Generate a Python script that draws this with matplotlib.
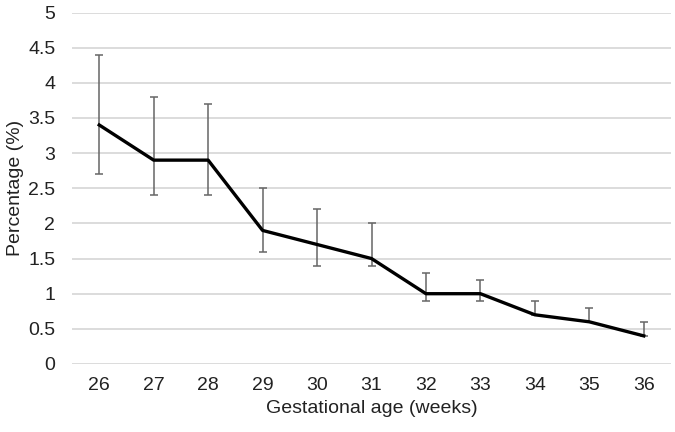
import matplotlib
matplotlib.use("Agg")
import matplotlib.pyplot as plt
import numpy as np

plt.rcParams['font.family'] = ['Liberation Sans', 'DejaVu Sans']

weeks = ['26', '27', '28', '29', '30', '31', '32', '33', '34', '35', '36']
pct = [3.4, 2.9, 2.9, 1.9, 1.7, 1.5, 1.0, 1.0, 0.7, 0.6, 0.4]
ci_low = [2.7, 2.4, 2.4, 1.6, 1.4, 1.4, 0.9, 0.9, 0.7, 0.6, 0.4]
ci_high = [4.4, 3.8, 3.7, 2.5, 2.2, 2.0, 1.3, 1.2, 0.9, 0.8, 0.6]

x = np.arange(len(weeks))
pct = np.array(pct)
yerr = [pct - np.array(ci_low), np.array(ci_high) - pct]

fig = plt.figure(figsize=(6.75, 4.32), dpi=100)
ax = fig.add_axes([72 / 675, 68 / 432, 599 / 675, 351.5 / 432])

ax.errorbar(x, pct, yerr=yerr, fmt='none', ecolor='#666666', elinewidth=1.1,
            capsize=3, capthick=1.1, zorder=2)
ax.plot(x, pct, color='black', lw=2.4, zorder=3)

ax.set_xlim(-0.5, len(weeks) - 0.5)
ax.set_ylim(0, 5)
ax.set_yticks(np.arange(0, 5.01, 0.5))
ax.set_yticklabels(['0', '0.5', '1', '1.5', '2', '2.5', '3', '3.5', '4', '4.5', '5'])
ax.set_xticks(x)
ax.set_xticklabels(weeks)
ax.grid(axis='y', color='#d9d9d9', lw=1.3)
ax.set_axisbelow(True)
for s in ax.spines.values():
    s.set_visible(False)
ax.tick_params(length=0, labelsize=14, colors='#222222', pad=12)
ax.tick_params(axis='x', pad=9)

ax.set_xlabel('Gestational age (weeks)', fontsize=14, color='#222222', labelpad=5)
ax.set_ylabel('Percentage (%)', fontsize=14, color='#222222', labelpad=3)

fig.savefig('out.png', dpi=100)
